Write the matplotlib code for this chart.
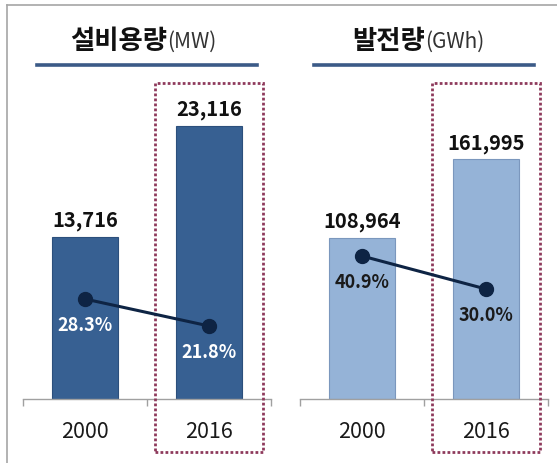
import matplotlib
matplotlib.use("Agg")
import matplotlib.pyplot as plt
from matplotlib.patches import Rectangle
from matplotlib.lines import Line2D
import matplotlib.transforms as mtransforms

plt.rcParams["font.family"] = ["Noto Sans CJK KR", "DejaVu Sans"]

# data
years = ["2000", "2016"]
capacity = [13716, 23116]          # 설비용량 (MW)
capacity_share = [28.3, 21.8]      # %
generation = [108964, 161995]      # 발전량 (GWh)
generation_share = [40.9, 30.0]    # %

W, H = 557, 463
fig = plt.figure(figsize=(W / 100, H / 100), dpi=100)


def px_box(x0, x1, ytop, ybot):
    return [x0 / W, 1 - ybot / H, (x1 - x0) / W, (ybot - ytop) / H]


# outer frame (cut at right/bottom)
fig.add_artist(Line2D([7 / W, 7 / W], [0, 1 - 5 / H], color="#a6a6a6", lw=1.2))
fig.add_artist(Line2D([7 / W, 1], [1 - 5 / H, 1 - 5 / H], color="#a6a6a6", lw=1.2))


def panel(rect, values, shares, ylim, ylim2, bar_color, edge_color,
          title, unit, title_x, pct_color):
    ax = fig.add_axes(rect)
    x = range(len(years))
    ax.bar(x, values, width=0.525, color=bar_color, edgecolor=edge_color,
           linewidth=0.8, zorder=2)
    ax.set_xlim(-0.5, 1.5)
    ax.set_ylim(0, ylim)
    for s in ["top", "left", "right"]:
        ax.spines[s].set_visible(False)
    ax.spines["bottom"].set_color("#a0a0a0")
    ax.spines["bottom"].set_linewidth(1.0)
    ax.set_yticks([])
    ax.set_xticks([-0.5, 0.5, 1.5])
    ax.set_xticklabels([])
    ax.tick_params(axis="x", which="major", length=5, width=1.0, color="#a0a0a0")
    ax.set_xticks(list(x), minor=True)
    ax.set_xticklabels(years, minor=True, fontsize=15.5, color="#1a1a1a")
    ax.tick_params(axis="x", which="minor", length=0, pad=16)

    for xi, v in zip(x, values):
        ax.annotate(f"{v:,}", (xi, v), xytext=(0, 4), textcoords="offset points",
                    ha="center", va="bottom", fontsize=14.5, fontweight="bold",
                    color="#111111")

    ax2 = ax.twinx()
    ax2.set_ylim(*ylim2)
    ax2.set_yticks([])
    for s in ax2.spines.values():
        s.set_visible(False)
    ax2.plot(list(x), shares, color="#0e2444", lw=2.2, marker="o", markersize=10,
             zorder=3)
    for xi, v in zip(x, shares):
        ax2.annotate(f"{v:.1f}%", (xi, v), xytext=(0, -19), textcoords="offset points",
                     ha="center", va="center", fontsize=13, fontweight="bold",
                     color=pct_color)

    # highlight box around 2016
    trans = mtransforms.blended_transform_factory(ax.transData, ax.transAxes)
    ax.add_patch(Rectangle((0.565, -0.161), 0.87, 1.121, transform=trans,
                           fill=False, edgecolor="#8e3a5c", lw=2.0,
                           linestyle=(0, (1, 0.8)), clip_on=False, zorder=5))

    # title with underline
    t1 = ax.text(title_x, 1.045, title, transform=ax.transAxes, ha="right",
                 va="bottom", fontsize=19, fontweight="bold", color="#111111")
    ax.annotate(unit, xy=(1, 0.08), xycoords=t1, ha="left", va="bottom",
                fontsize=15, color="#333333")
    ax.add_line(Line2D([0.056, 0.944], [1.015, 1.015], transform=ax.transAxes,
                       color="#3b5a87", lw=2.6, clip_on=False))
    return ax


panel(px_box(23, 271, 70, 399), capacity, capacity_share, 27860, (4.2, 83.5),
      "#376092", "#2c4f7c", "설비용량", "(MW)", 0.581, "white")
panel(px_box(300, 548, 70, 399), generation, generation_share, 222300, (-6.3, 102.3),
      "#95b3d7", "#7b97bd", "발전량", "(GWh)", 0.504, "#1a1a1a")

fig.savefig("out.png", dpi=100, facecolor="white")
